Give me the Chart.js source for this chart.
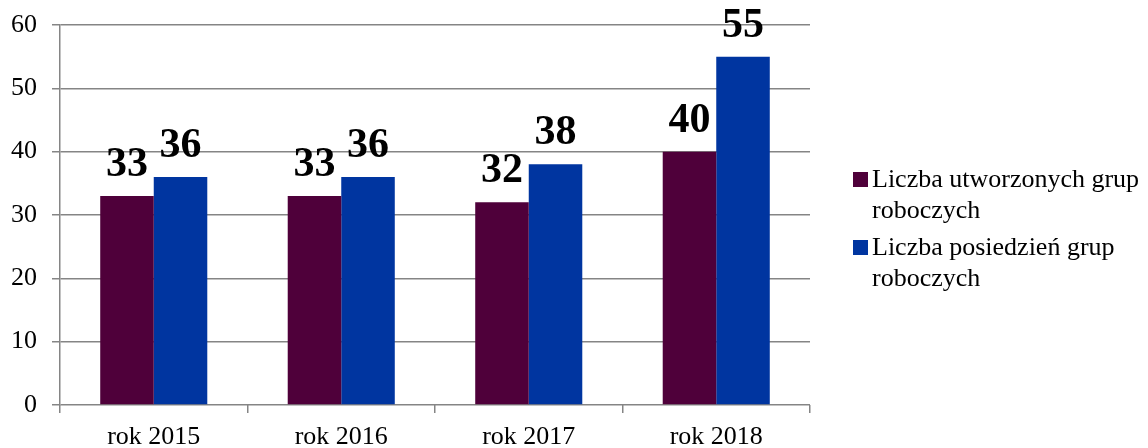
<!DOCTYPE html>
<html>
<head>
<meta charset="utf-8">
<script src="https://cdn.jsdelivr.net/npm/chart.js@4"></script>
<style>
  html, body { margin: 0; padding: 0; background: #fff; }
  #wrap { width: 1148px; height: 448px; position: relative; }
</style>
</head>
<body>
<div id="wrap"><canvas id="chart" width="1148" height="448"></canvas></div>
<script>
const categories = ['rok 2015', 'rok 2016', 'rok 2017', 'rok 2018'];
const createdGroups = [33, 33, 32, 40];
const groupMeetings = [36, 36, 38, 55];
const yTicks = [0, 10, 20, 30, 40, 50, 60];

const FONT = '"Liberation Serif", "Times New Roman", serif';
const GRID = '#858585';

// value labels above each bar
const barValues = {
    id: 'barValues',
    afterDatasetsDraw(chart) {
        const ctx = chart.ctx;
        ctx.save();
        ctx.font = 'bold 42px ' + FONT;
        ctx.fillStyle = '#000';
        ctx.textAlign = 'center';
        ctx.textBaseline = 'alphabetic';
        chart.data.datasets.forEach((ds, i) => {
            chart.getDatasetMeta(i).data.forEach((bar, j) => {
                ctx.fillText(String(ds.data[j]), bar.x, bar.y - 20);
            });
        });
        ctx.restore();
    }
};

// legend on the right, with wrapped text like the original
const sideLegend = {
    id: 'sideLegend',
    afterDraw(chart) {
        const ctx = chart.ctx;
        const x0 = 853, textX = 872, maxW = 272, lineH = 31;
        let baseline = 187;
        ctx.save();
        ctx.font = '26px ' + FONT;
        ctx.textBaseline = 'alphabetic';
        chart.data.datasets.forEach(ds => {
            const words = ds.label.split(' ');
            const lines = [];
            let cur = '';
            words.forEach(w => {
                const test = cur ? cur + ' ' + w : w;
                if (ctx.measureText(test).width > maxW && cur) {
                    lines.push(cur);
                    cur = w;
                } else {
                    cur = test;
                }
            });
            if (cur) lines.push(cur);
            ctx.fillStyle = ds.backgroundColor;
            ctx.fillRect(x0, baseline - 15, 15, 15);
            ctx.fillStyle = '#000';
            lines.forEach((ln, k) => ctx.fillText(ln, textX, baseline + k * lineH));
            baseline += lines.length * lineH + 6;
        });
        ctx.restore();
    }
};

new Chart(document.getElementById('chart'), {
    type: 'bar',
    data: {
        labels: categories,
        datasets: [
            { label: 'Liczba utworzonych grup roboczych', data: createdGroups, backgroundColor: '#4f003a' },
            { label: 'Liczba posiedzień grup roboczych', data: groupMeetings, backgroundColor: '#0035a0' }
        ]
    },
    options: {
        responsive: false,
        animation: false,
        devicePixelRatio: 1,
        layout: { padding: { top: 25, right: 338, left: 0, bottom: 0 } },
        datasets: { bar: { categoryPercentage: 0.571, barPercentage: 1 } },
        plugins: { legend: { display: false }, tooltip: { enabled: false } },
        scales: {
            x: {
                grid: { drawOnChartArea: false, drawTicks: true, tickLength: 8, offset: true, color: GRID, lineWidth: 1.5 },
                border: { display: false },
                ticks: { color: '#000', padding: 11, font: { family: FONT, size: 26, lineHeight: 1 } },
                afterFit(scale) { scale.height = 43; }
            },
            y: {
                min: 0,
                max: 60,
                afterBuildTicks(scale) { scale.ticks = yTicks.map(v => ({ value: v })); },
                grid: { color: GRID, lineWidth: 1.5, tickLength: 8 },
                border: { color: GRID, width: 1.5 },
                ticks: { color: '#000', padding: 15, font: { family: FONT, size: 26, lineHeight: 1 } },
                afterFit(scale) {
                    scale.width = 60;
                    scale.paddingTop = 0;
                    scale.paddingBottom = 0;
                }
            }
        }
    },
    plugins: [barValues, sideLegend]
});
</script>
</body>
</html>
